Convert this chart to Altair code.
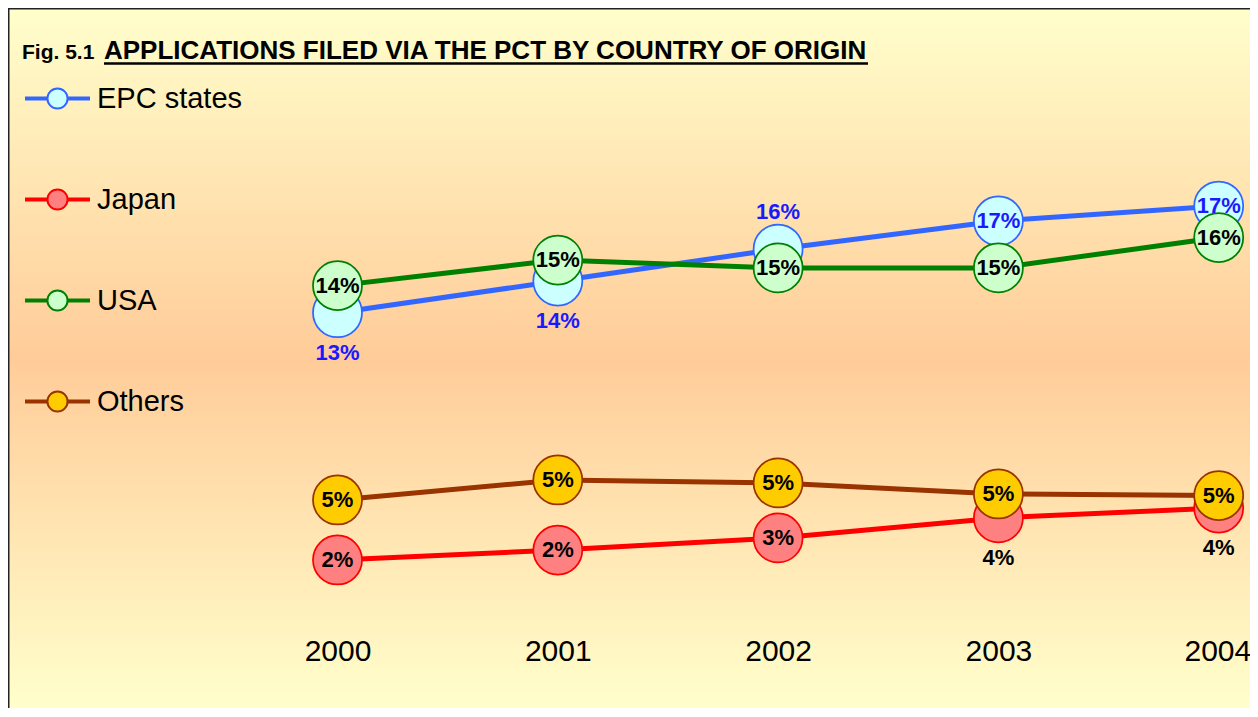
import altair as alt
import pandas as pd

# ---- data ----
years = [2000, 2001, 2002, 2003, 2004]
series_names = ["EPC states", "Japan", "USA", "Others"]
epc = [12.75, 14.13, 15.52, 16.74, 17.39]
japan = [2.00, 2.43, 2.96, 3.83, 4.26]
usa = [13.93, 15.04, 14.70, 14.70, 16.02]
others = [4.61, 5.48, 5.35, 4.87, 4.80]

epc_labels = ["13%", "14%", "16%", "17%", "17%"]
japan_labels = ["2%", "2%", "3%", "4%", "4%"]
usa_labels = ["14%", "15%", "15%", "15%", "16%"]
others_labels = ["5%", "5%", "5%", "5%", "5%"]

epc_label_pos = ["below", "below", "above", "center", "center"]
japan_label_pos = ["center", "center", "center", "below", "below"]
usa_label_pos = ["center", "center", "center", "center", "center"]
others_label_pos = ["center", "center", "center", "center", "center"]

fig_number = "Fig. 5.1"
title_text = "APPLICATIONS FILED VIA THE PCT BY COUNTRY OF ORIGIN"

line_colors = ["#3366ff", "#ff0000", "#008000", "#993300"]
marker_fills = ["#ccffff", "#ff8080", "#ccffcc", "#ffcc00"]
label_colors = ["#1a1aff", "#000000", "#000000", "#000000"]

# ---- table ----
rows = []
all_vals = [epc, japan, usa, others]
all_labels = [epc_labels, japan_labels, usa_labels, others_labels]
all_pos = [epc_label_pos, japan_label_pos, usa_label_pos, others_label_pos]
for si, name in enumerate(series_names):
    for yi, yr in enumerate(years):
        rows.append({
            "series": name, "sidx": si, "year": yr,
            "value": all_vals[si][yi], "label": all_labels[si][yi],
            "pos": all_pos[si][yi],
        })
df = pd.DataFrame(rows)

W, H = 1242, 700
FONT = "Liberation Sans"

x_enc = alt.X(
    "year:Q",
    scale=alt.Scale(domain=[1998.5043, 2004.1421], nice=False, zero=False),
    axis=alt.Axis(values=years, format="d", title=None, domain=False, ticks=False,
                  tickSize=0, grid=False, labelFontSize=30, labelFont=FONT,
                  labelColor="black", offset=-60, labelPadding=3,
                  labelBaseline="middle", labelFlush=40, labelFlushOffset=32,
                  labelOverlap=False, labelBound=False, zindex=2),
)
y_enc = alt.Y(
    "value:Q",
    scale=alt.Scale(domain=[-4.4348, 26.0], nice=False, zero=False),
    axis=None,
)

stroke_scale = alt.Scale(domain=series_names, range=line_colors)
fill_scale = alt.Scale(domain=series_names, range=marker_fills)

legend_path = ("M-1,-0.03L-0.31,-0.03M-1,0.03L-0.31,0.03"
               "M0.31,-0.03L1,-0.03M0.31,0.03L1,0.03"
               "M-0.31,0A0.31,0.31,0,1,0,0.31,0A0.31,0.31,0,1,0,-0.31,0Z")
legend_def = alt.Legend(
    title=None, orient="none", legendX=16, legendY=57, padding=0,
    symbolType=legend_path, symbolSize=4225, symbolStrokeWidth=2,
    symbolOpacity=1, labelFontSize=29, labelFont=FONT, labelColor="black",
    labelOffset=6, rowPadding=52, labelLimit=500, zindex=2,
)

gradient = alt.LinearGradient(
    gradient="linear",
    stops=[alt.GradientStop(offset=0, color="#ffffcc"),
           alt.GradientStop(offset=0.5, color="#ffcc99"),
           alt.GradientStop(offset=1, color="#ffffcc")],
    x1=0, x2=0, y1=0, y2=1,
)

one = pd.DataFrame({"a": [0]})

bg = alt.Chart(one).mark_rect(fill=gradient).encode(
    x=alt.value(0), x2=alt.value(W), y=alt.value(0), y2=alt.value(H))

base = alt.Chart(df)

lines = base.mark_line(strokeWidth=5).encode(
    x=x_enc, y=y_enc,
    stroke=alt.Stroke("series:N", scale=stroke_scale, legend=legend_def),
    detail="series:N",
    order=alt.Order("year:Q"),
)

points = base.mark_point(shape="circle", filled=True, size=2401, strokeWidth=1.75,
                         opacity=1).encode(
    x=x_enc, y=y_enc,
    fill=alt.Fill("series:N", scale=fill_scale, legend=legend_def),
    stroke=alt.Stroke("series:N", scale=stroke_scale, legend=legend_def),
    order=alt.Order("sidx:Q"),
)


def label_layer(pos, dy):
    return base.transform_filter(alt.datum.pos == pos).mark_text(
        font=FONT, fontSize=22, fontWeight="bold", align="center",
        baseline="middle", dy=dy,
    ).encode(
        x=x_enc, y=y_enc, text="label:N",
        color=alt.Color("series:N", scale=alt.Scale(domain=series_names, range=label_colors),
                        legend=None),
    )


labels_c = label_layer("center", 0)
labels_b = label_layer("below", 40)
labels_a = label_layer("above", -37)

fig_txt = alt.Chart(pd.DataFrame({"t": [fig_number]})).mark_text(
    font=FONT, fontSize=21, fontWeight="bold", align="left", baseline="alphabetic",
    color="black").encode(x=alt.value(14), y=alt.value(51), text="t:N")
title_txt = alt.Chart(pd.DataFrame({"t": [title_text]})).mark_text(
    font=FONT, fontSize=26, fontWeight="bold", align="left", baseline="alphabetic",
    color="black").encode(x=alt.value(96), y=alt.value(51), text="t:N")
underline = alt.Chart(one).mark_rule(color="black", strokeWidth=2.5).encode(
    x=alt.value(96), x2=alt.value(860), y=alt.value(55.5))
top_border = alt.Chart(one).mark_rule(color="#222222", strokeWidth=1.5).encode(
    x=alt.value(0), x2=alt.value(W), y=alt.value(0.75))
left_border = alt.Chart(one).mark_rule(color="#222222", strokeWidth=1.5).encode(
    x=alt.value(0.75), y=alt.value(0), y2=alt.value(H))

chart = alt.layer(
    bg, lines, points, labels_c, labels_b, labels_a,
    fig_txt, title_txt, underline, top_border, left_border,
).resolve_scale(color="independent").properties(
    width=W, height=H, padding=0,
    autosize=alt.AutoSizeParams(type="none"),
).configure_view(stroke=None).configure(font=FONT)

chart.save("out.html", embed_options={"renderer": "svg", "actions": False})
